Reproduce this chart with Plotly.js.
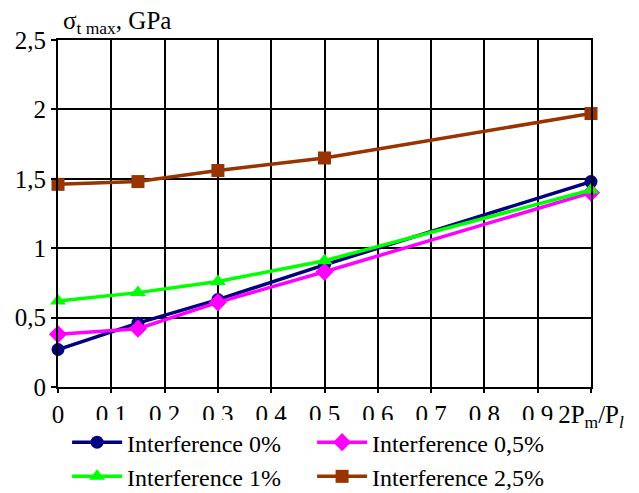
<!DOCTYPE html>
<html><head><meta charset="utf-8">
<script src="https://cdn.plot.ly/plotly-3.0.1.min.js"></script>
<style>body{margin:0;background:#fff}#c{width:639px;height:493px}</style>
</head><body><div id="c"></div>
<script>
const xVals = [0, 0.15, 0.3, 0.5, 1];
const interf0 = [0.27, 0.46, 0.63, 0.88, 1.48];
const interf05 = [0.38, 0.42, 0.61, 0.83, 1.40];
const interf1 = [0.62, 0.68, 0.76, 0.91, 1.42];
const interf25 = [1.46, 1.48, 1.56, 1.65, 1.97];
const names = ["Interference 0%", "Interference 0,5%", "Interference 1%", "Interference 2,5%"];
const xTickVals = [0,0.1,0.2,0.3,0.4,0.5,0.6,0.7,0.8,0.9,1];
const xTickText = ["0","0,1","0,2","0,3","0,4","0,5","0,6","0,7","0,8","0,9","2P<sub>m</sub>/P<sub><i>l</i></sub>"];
const yTickVals = [0,0.5,1,1.5,2,2.5];
const yTickText = ["0","0,5","1","1,5","2","2,5"];

const colors = ["#000080","#FF00FF","#00FF00","#993300"];
const symbols = ["circle","diamond","triangle-up","square"];
const sizes = [13,14,14,13];
const series = [interf0, interf05, interf1, interf25];
const traces = series.map((s,i)=>({
  x: xVals, y: s, name: names[i], type:'scatter', mode:'lines+markers',
  line:{color:colors[i], width:3.5},
  marker:{color:colors[i], symbol:symbols[i], size:sizes[i]},
  cliponaxis:false
}));
function F(sz){ return {family:'Liberation Serif', size:sz, color:'#000'}; }
const FS = 25;
const layout = {
  width:639, height:493,
  margin:{l:58, r:48, t:40, b:106, autoexpand:false},
  paper_bgcolor:'#fff', plot_bgcolor:'#fff',
  font: F(FS),
  showlegend:true,
  legend:{orientation:'h', xref:'container', x:0.105, xanchor:'left', yref:'container', y:0.148, yanchor:'top',
          entrywidth:180, entrywidthmode:'pixels', itemwidth:50, font:F(24)},
  xaxis:{range:[0,1], tickvals:xTickVals, ticktext:xTickText, showgrid:true,
         gridcolor:'#000', gridwidth:2, showline:true, linecolor:'#000', linewidth:2,
         mirror:true, ticks:'outside', ticklen:4, tickwidth:2, tickcolor:'#000',
         zeroline:false, tickfont:F(FS), automargin:false},
  yaxis:{range:[0,2.5], tickvals:yTickVals, ticktext:yTickText, showgrid:true,
         gridcolor:'#000', gridwidth:2, showline:true, linecolor:'#000', linewidth:2,
         mirror:true, ticks:'outside', ticklen:5, tickwidth:2, tickcolor:'#000',
         zeroline:false, tickfont:F(FS), automargin:false},
  annotations:[{text:'σ<sub>t max</sub>, GPa', xref:'paper', yref:'paper', x:0.005, y:1,
    xanchor:'left', yanchor:'bottom', yshift:0, showarrow:false, font:F(FS)}]
};
Plotly.newPlot('c', traces, layout, {displayModeBar:false, staticPlot:true});
</script></body></html>
